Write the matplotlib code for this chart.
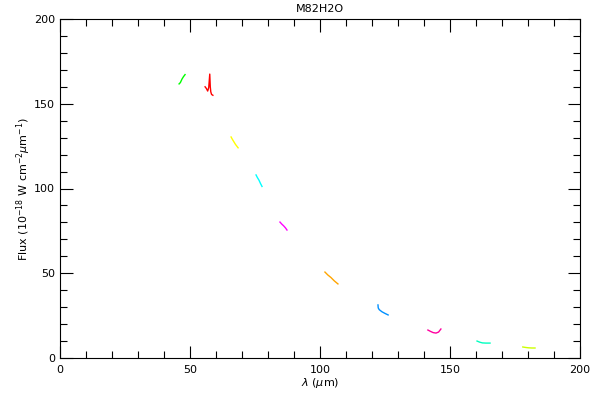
import matplotlib
matplotlib.use("Agg")
import matplotlib.pyplot as plt
from matplotlib.ticker import MultipleLocator

# Spectral segments (wavelength in um, flux in 1e-18 W cm^-2 um^-1)
seg1_x = [45.8, 46.3, 46.9, 47.5, 48.1]
seg1_y = [161.7, 162.5, 164.5, 166.0, 167.2]
seg2_x = [55.8, 56.3, 56.8, 57.2, 57.6, 57.8, 58.0, 58.3, 58.8]
seg2_y = [160.0, 159.0, 157.5, 159.5, 167.5, 160.0, 157.0, 155.5, 155.0]
seg3_x = [65.8, 66.3, 66.9, 67.5, 68.5]
seg3_y = [130.4, 129.0, 127.5, 126.0, 124.0]
seg4_x = [75.4, 75.9, 76.5, 77.1, 77.7]
seg4_y = [108.0, 106.5, 105.0, 103.0, 101.2]
seg5_x = [84.6, 85.3, 86.0, 86.7, 87.3]
seg5_y = [80.2, 79.0, 78.0, 76.8, 75.5]
seg6_x = [101.9, 103.0, 104.2, 105.5, 106.9]
seg6_y = [50.7, 49.0, 47.5, 45.5, 43.7]
seg7_x = [122.3, 122.4, 122.8, 123.8, 125.0, 126.2]
seg7_y = [31.3, 29.5, 28.5, 27.3, 26.3, 25.4]
seg8_x = [141.5, 142.5, 143.5, 144.6, 145.6, 146.5]
seg8_y = [16.5, 15.7, 15.0, 14.7, 15.3, 17.1]
seg9_x = [160.4, 161.5, 162.5, 163.8, 165.4]
seg9_y = [10.0, 9.3, 8.9, 8.8, 8.8]
seg10_x = [178.0, 179.2, 180.3, 181.5, 182.7]
seg10_y = [6.5, 6.2, 6.0, 5.9, 5.9]

segments = [
    (seg1_x, seg1_y, "#00ff00"),
    (seg2_x, seg2_y, "#ff0000"),
    (seg3_x, seg3_y, "#ffff00"),
    (seg4_x, seg4_y, "#00ffff"),
    (seg5_x, seg5_y, "#ff00ff"),
    (seg6_x, seg6_y, "#ffa500"),
    (seg7_x, seg7_y, "#0090ff"),
    (seg8_x, seg8_y, "#ff00a0"),
    (seg9_x, seg9_y, "#00ffc0"),
    (seg10_x, seg10_y, "#ccff00"),
]

fig = plt.figure(figsize=(6, 4), dpi=100)
ax = fig.add_axes([60/600, 1 - 358/400, 520/600, 339/400])
for xs, ys, c in segments:
    ax.plot(xs, ys, color=c, lw=1.0)

ax.set_xlim(0, 200)
ax.set_ylim(0, 200)
ax.xaxis.set_major_locator(MultipleLocator(50))
ax.xaxis.set_minor_locator(MultipleLocator(10))
ax.yaxis.set_major_locator(MultipleLocator(50))
ax.yaxis.set_minor_locator(MultipleLocator(10))
ax.tick_params(which="both", direction="in", top=True, right=True,
               labelsize=8, width=0.8)
ax.tick_params(which="major", length=9)
ax.tick_params(which="minor", length=5)
ax.tick_params(axis="x", pad=5)
for s in ax.spines.values():
    s.set_linewidth(0.8)

ax.set_title("M82H2O", fontsize=8, pad=5)
ax.set_xlabel(r"$\lambda$ ($\mu$m)", fontsize=8, labelpad=1)
ax.set_ylabel(r"Flux (10$^{-18}$ W cm$^{-2}$$\mu$m$^{-1}$)", fontsize=8, labelpad=1)

fig.savefig("out.png", dpi=100)
